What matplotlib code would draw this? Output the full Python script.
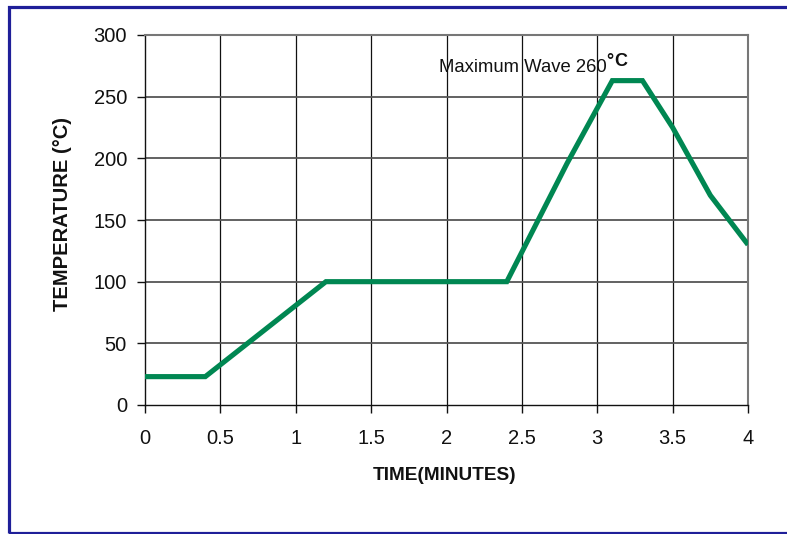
import matplotlib
matplotlib.use("Agg")
import matplotlib.pyplot as plt
from matplotlib.patches import Rectangle

# Data
time_min = [0, 0.4, 1.2, 2.4, 2.8, 3.1, 3.3, 3.5, 3.75, 4.0]
temp_c = [23, 23, 100, 100, 196, 263, 263, 225, 170, 130]
x_ticks = [0, 0.5, 1, 1.5, 2, 2.5, 3, 3.5, 4]
x_tick_labels = ["0", "0.5", "1", "1.5", "2", "2.5", "3", "3.5", "4"]
y_ticks = [0, 50, 100, 150, 200, 250, 300]
y_tick_labels = ["0", "50", "100", "150", "200", "250", "300"]
annotation_text = "Maximum Wave 260"
annotation_deg = "°"
annotation_c = "C"

plt.rcParams['font.family'] = ['Liberation Sans', 'DejaVu Sans']

fig = plt.figure(figsize=(7.87, 5.34), dpi=100)
ax = fig.add_axes([145/787, 1-405/534, (748-145)/787, (405-35)/534])

ax.set_xlim(0, 4)
ax.set_ylim(0, 300)

# grid
for xv in x_ticks[1:-1]:
    ax.axvline(xv, color='#111111', lw=0.9, zorder=1)
for yv in y_ticks[1:-1]:
    ax.axhline(yv, color='#555555', lw=1.3, zorder=1)

ax.plot(time_min, temp_c, color='#008752', lw=3.7, solid_capstyle='butt',
        solid_joinstyle='miter', zorder=3)

ax.spines['top'].set_color('#777777')
ax.spines['top'].set_linewidth(1.5)
ax.spines['right'].set_color('#777777')
ax.spines['right'].set_linewidth(1.5)
ax.spines['left'].set_color('#111111')
ax.spines['bottom'].set_color('#111111')
ax.spines['left'].set_linewidth(1.0)
ax.spines['bottom'].set_linewidth(1.0)

ax.set_xticks(x_ticks)
ax.set_xticklabels(x_tick_labels)
ax.set_yticks(y_ticks)
ax.set_yticklabels(y_tick_labels)
ax.tick_params(axis='both', direction='out', length=6, width=1.0, color='#111111',
               labelsize=14.5, labelcolor='#111111')
ax.tick_params(axis='x', pad=11)
ax.tick_params(axis='y', pad=7)

ax.text(1.95, 270, annotation_text, fontsize=13.3, color='#111111', va='baseline', ha='left')
ax.text(3.06, 275, annotation_deg, fontsize=13, fontweight='bold', color='#111111',
        va='baseline', ha='left')
ax.text(3.11, 274.5, annotation_c, fontsize=13, fontweight='bold', color='#111111',
        va='baseline', ha='left')

fig.text(445/787, 1-475/534, "TIME(MINUTES)", fontsize=13.7, fontweight='bold',
         ha='center', va='center', color='#111111')
fig.text(62/787, 1-214/534, "TEMPERATURE (°C)", fontsize=14.5, fontweight='bold',
         ha='center', va='center', rotation=90, color='#111111')

fig.add_artist(Rectangle((8.5/787, 1-533/534), 1.0, (533-6.5)/534,
                         transform=fig.transFigure, fill=False, ec='#1f1f99',
                         lw=2.3, clip_on=False))

fig.savefig("out.png", dpi=100)
